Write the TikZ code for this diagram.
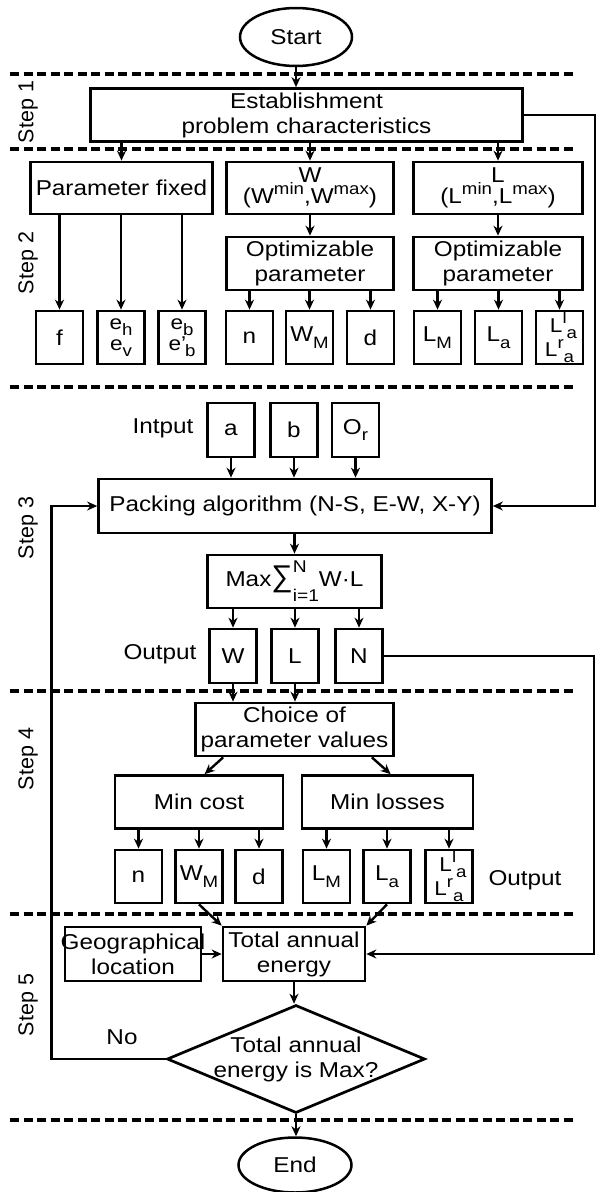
\documentclass[tikz,border=0pt]{standalone}
\usepackage{fontspec}
\setmainfont{Liberation Sans}[FakeStretch=1.13]
\newfontfamily\steplabelfont{Liberation Sans}
\newfontfamily\sigmafont{Liberation Sans}
\newcommand\lowtxt[1]{\raisebox{-0.3em}{\fontsize{16.5}{16.5}\selectfont #1}}
\newcommand\hightxt[1]{\raisebox{0.42em}{\fontsize{16.5}{16.5}\selectfont #1}}
\usetikzlibrary{arrows.meta,shapes.geometric}

\begin{document}
\begin{tikzpicture}[x=1pt, y=-1pt,
  font=\fontsize{21.5}{25}\selectfont,
  stagebox/.style={draw, line width=2.7pt, align=center, inner sep=0pt,
    minimum height=53pt},
  valuebox/.style={stagebox, minimum width=47pt},
  twoline/.style={font=\fontsize{20}{21}\selectfont},
  termbox/.style={draw, ellipse, line width=2.5pt, inner sep=0pt},
  decision/.style={draw, diamond, line width=2.7pt, inner sep=0pt},
  steplabel/.style={rotate=90, font=\steplabelfont\fontsize{21.5}{25}\selectfont},
  divider/.style={line width=3.2pt, dash pattern=on 9pt off 4.5pt},
  arrow/.style={-{Stealth[length=10pt, width=9pt]}, line width=2.4pt}
]
\useasboundingbox (0,0) rectangle (595,1192);

\foreach \yy in {74,149,387,691,914,1120}
  \draw[divider] (10,\yy) -- (576,\yy);

\node[steplabel] (st1) at (28,112) {Step 1};
\node[steplabel] (st2) at (28,263) {Step 2};
\node[steplabel] (st3) at (28,528) {Step 3};
\node[steplabel] (st4) at (28,759) {Step 4};
\node[steplabel] (st5) at (28,1005) {Step 5};

% step 1
\node[termbox, minimum width=112pt, minimum height=58pt] (start) at (296,37) {Start};
\node[stagebox, minimum width=432pt] (s1) at (306.5,115)
  {Establishment\\problem characteristics};

% step 2
\node[stagebox, minimum width=182pt, minimum height=52pt] (fixed) at (121.5,188) {Parameter fixed};
\node[stagebox, minimum width=167pt, minimum height=52pt, font=\fontsize{21.5}{21}\selectfont] (wrange) at (310,188)
  {W\\(W\hightxt{min},W\hightxt{max})};
\node[stagebox, minimum width=169pt, minimum height=52pt, font=\fontsize{21.5}{21}\selectfont] (lrange) at (498,188)
  {L\\(L\hightxt{min},L\hightxt{max})};
\node[stagebox, minimum width=167pt] (wopt) at (310,263.5) {Optimizable\\parameter};
\node[stagebox, minimum width=169pt] (lopt) at (498,263.5) {Optimizable\\parameter};

\node[valuebox] (f) at (59.5,337.5) {f};
\node[valuebox, twoline] (eh) at (121,337.5) {e\lowtxt{h}\\e\lowtxt{v}};
\node[valuebox, twoline] (eb) at (182,337.5) {e\lowtxt{b}\\e’\kern-1pt\lowtxt{b}};
\node[valuebox] (n) at (249.5,337.5) {n};
\node[valuebox] (wm) at (309.5,337.5) {W\lowtxt{M}};
\node[valuebox] (d) at (370.5,337.5) {d};
\node[valuebox] (lm) at (437.5,337.5) {L\lowtxt{M}};
\node[valuebox] (la) at (498.5,337.5) {L\lowtxt{a}};
\node[valuebox, twoline] (llr) at (559.5,337.5)
  {\hspace{0.4em}L\hightxt{l}\lowtxt{a}\\L\hightxt{r}\lowtxt{a}};

% step 3
\node (inlab) at (163,428) {Intput};
\node[valuebox, minimum height=54pt] (a) at (231,430) {a};
\node[valuebox, minimum height=54pt] (b) at (294,430) {b};
\node[valuebox, minimum height=54pt] (orr) at (355.5,430) {O\lowtxt{r}};
\node[stagebox, minimum width=393pt, minimum height=54pt] (pack) at (295,506)
  {Packing algorithm (N-S, E-W, X-Y)};
\node[stagebox, minimum width=174pt] (maxsum) at (294.5,581.5)
  {Max{\sigmafont\fontsize{30}{30}\selectfont ∑}\rlap{\raisebox{14pt}{\fontsize{17}{17}\selectfont N}}\raisebox{-15pt}{\fontsize{17}{17}\selectfont i=1}W·L};
\node[valuebox, minimum height=54pt] (wout) at (233,656) {W};
\node[valuebox, minimum height=54pt] (lout) at (295,656) {L};
\node[valuebox, minimum height=54pt] (nout) at (359,656) {N};
\node (outlab) at (160,654) {Output};

% step 4
\node[stagebox, minimum width=198pt] (choice) at (294.5,729.5) {Choice of\\parameter values};
\node[stagebox, minimum width=168pt] (mincost) at (199,802) {Min cost};
\node[stagebox, minimum width=171pt] (minloss) at (387.5,802) {Min losses};
\node[valuebox] (n2) at (138.5,876.5) {n};
\node[valuebox] (wm2) at (199,876.5) {W\lowtxt{M}};
\node[valuebox] (d2) at (259,876.5) {d};
\node[valuebox] (lm2) at (326.5,876.5) {L\lowtxt{M}};
\node[valuebox] (la2) at (387,876.5) {L\lowtxt{a}};
\node[valuebox, twoline] (llr2) at (449,876.5)
  {\hspace{0.4em}L\hightxt{l}\lowtxt{a}\\L\hightxt{r}\lowtxt{a}};
\node (outlab2) at (525,880) {Output};

% step 5
\node[stagebox, minimum width=136pt, minimum height=54pt] (geo) at (133,954)
  {\makebox[130pt]{Geographical}\\location};
\node[stagebox, minimum width=142pt, minimum height=54pt] (total) at (294,954) {Total annual\\energy};
\node[decision, minimum width=258pt, minimum height=108pt,
  label={[align=center]center:Total annual\\energy is Max?}] (maxq) at (296,1059) {};
\node (no) at (122,1037) {No};
\node[termbox, minimum width=113pt, minimum height=55pt] (stop) at (295,1165) {End};

\draw[arrow] (start.south) -- (start.south |- s1.north);
\foreach \n in {fixed,wrange,lrange}
  \draw[arrow] (\n.north |- s1.south) -- (\n.north);
\draw[arrow] (wrange) -- (wopt);
\draw[arrow] (lrange) -- (lopt);
\foreach \n in {f,eh,eb}
  \draw[arrow] (\n.north |- fixed.south) -- (\n.north);
\foreach \n in {n,wm,d}
  \draw[arrow] (\n.north |- wopt.south) -- (\n.north);
\foreach \n in {lm,la,llr}
  \draw[arrow] (\n.north |- lopt.south) -- (\n.north);
\draw[arrow] (s1.east) -- ++(71,0) |- (pack.east);

\foreach \n in {a,b,orr}
  \draw[arrow] (\n.south) -- (\n.south |- pack.north);
\draw[arrow] (maxsum.north |- pack.south) -- (maxsum.north);
\foreach \n in {wout,lout,nout}
  \draw[arrow] (\n.north |- maxsum.south) -- (\n.north);
\draw[arrow] (nout.east) -- ++(210,0) |- (total.east);

\foreach \n in {wout,lout}
  \draw[arrow] (\n.south) -- (\n.south |- choice.north);
\draw[arrow] ([xshift=29pt]choice.south west) -- ([xshift=91pt]mincost.north west);
\draw[arrow] ([xshift=-23pt]choice.south east) -- ([xshift=90pt]minloss.north west);
\foreach \n in {n2,wm2,d2}
  \draw[arrow] (\n.north |- mincost.south) -- (\n.north);
\foreach \n in {lm2,la2,llr2}
  \draw[arrow] (\n.north |- minloss.south) -- (\n.north);

\draw[arrow] (wm2.south) -- (total.north west);
\draw[arrow] (la2.south) -- (total.north east);
\draw[arrow] (geo) -- (total);
\draw[arrow] (total.south) -- (total.south |- maxq.north);
\draw[arrow] (maxq.west) -- ++(-114,0) |- (pack.west);
\draw[arrow] (maxq.south) -- (maxq.south |- stop.north);
\end{tikzpicture}
\end{document}
